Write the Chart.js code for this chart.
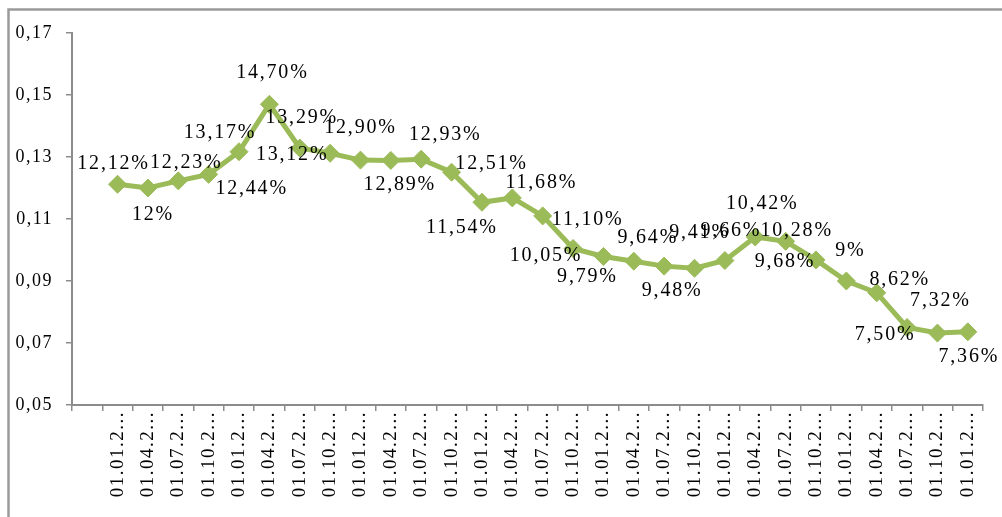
<!DOCTYPE html>
<html>
<head>
<meta charset="utf-8">
<script src="https://cdn.jsdelivr.net/npm/chart.js@4/dist/chart.umd.min.js"></script>
<style>
    body { margin: 0; background: #fff; }
    canvas { display: block; }
</style>
</head>
<body>
<canvas id="rateChart" width="1002" height="517"></canvas>
<script>
// ================= DATA =================
const categories = [
    "",
    "01.01.2...", "01.04.2...", "01.07.2...", "01.10.2...",
    "01.01.2...", "01.04.2...", "01.07.2...", "01.10.2...",
    "01.01.2...", "01.04.2...", "01.07.2...", "01.10.2...",
    "01.01.2...", "01.04.2...", "01.07.2...", "01.10.2...",
    "01.01.2...", "01.04.2...", "01.07.2...", "01.10.2...",
    "01.01.2...", "01.04.2...", "01.07.2...", "01.10.2...",
    "01.01.2...", "01.04.2...", "01.07.2...", "01.10.2...",
    "01.01.2..."
];

const quarterRates = [
    null,
    0.1212, 0.12, 0.1223, 0.1244, 0.1317, 0.147, 0.1329, 0.1312,
    0.129, 0.1289, 0.1293, 0.1251, 0.1154, 0.1168, 0.111, 0.1005,
    0.0979, 0.0964, 0.0948, 0.0941, 0.0966, 0.1042, 0.1028, 0.0968,
    0.09, 0.0862, 0.075, 0.0732, 0.0736
];

const yTickValues = [0.05, 0.07, 0.09, 0.11, 0.13, 0.15, 0.17];

// ================= LABEL PLACEMENT (dx, dy from each point) =================
const labelShift = [
    [-4, -21], [5, 27], [8, -18], [43, 14], [-19, -19], [3, -32], [2, -30], [-38, 1],
    [0, -32], [9, 24], [24, -24], [40, -8], [-20, 25], [29, -15], [45, 4], [-27, 7],
    [-16, 20], [14, -23], [8, 25], [5, -36], [6, -30], [7, -33], [11, -11], [-31, 2],
    [4, -30], [23, -13], [-22, 7], [3, -32], [1, 25]
];

const GREEN = "#9bbb59";
const AXIS = "#8c8c8c";
const SERIF = "'Liberation Serif', 'Times New Roman', serif";

function pct(v) {
    const p = v * 100;
    const txt = Math.abs(p - Math.round(p)) < 1e-9 ? String(Math.round(p)) : p.toFixed(2);
    return txt.replace(".", ",") + "%";
}

// ================= PLUGINS =================
const framePlugin = {
    id: "frame",
    beforeDraw(chart) {
        const ctx = chart.ctx;
        ctx.save();
        ctx.fillStyle = "#fff";
        ctx.fillRect(0, 0, chart.width, chart.height);
        ctx.strokeStyle = "#9a9a9a";
        ctx.lineWidth = 2.5;
        ctx.beginPath();
        ctx.moveTo(8.5, chart.height);
        ctx.lineTo(8.5, 9.5);
        ctx.lineTo(chart.width, 9.5);
        ctx.stroke();
        ctx.restore();
        ctx.letterSpacing = "1.5px";
    },
    afterDraw(chart) {
        chart.ctx.letterSpacing = "0px";
    }
};

const pointLabels = {
    id: "pointLabels",
    afterDatasetsDraw(chart) {
        const ctx = chart.ctx;
        const meta = chart.getDatasetMeta(0);
        ctx.save();
        ctx.font = "20px " + SERIF;
        ctx.letterSpacing = "1.8px";
        ctx.fillStyle = "#000";
        ctx.textAlign = "center";
        ctx.textBaseline = "middle";
        meta.data.forEach((pt, i) => {
            const v = quarterRates[i];
            if (v == null) return;
            const s = labelShift[i - 1];
            ctx.fillText(pct(v), pt.x + s[0], pt.y + s[1]);
        });
        ctx.restore();
    }
};

// ================= CHART =================
new Chart(document.getElementById("rateChart"), {
    type: "line",
    data: {
        labels: categories,
        datasets: [{
            data: quarterRates,
            borderColor: GREEN,
            backgroundColor: GREEN,
            borderWidth: 5,
            pointStyle: "rectRot",
            pointRadius: 9,
            pointBorderWidth: 1,
            pointBackgroundColor: GREEN,
            pointBorderColor: GREEN,
            tension: 0
        }]
    },
    options: {
        responsive: false,
        animation: false,
        layout: { padding: { top: 33, right: 19, left: 0, bottom: 0 } },
        plugins: { legend: { display: false }, tooltip: { enabled: false } },
        scales: {
            x: {
                type: "category",
                offset: true,
                grid: { offset: true, drawOnChartArea: false, drawTicks: true, tickLength: 6, color: AXIS, lineWidth: 1.5 },
                border: { color: AXIS, width: 2 },
                ticks: {
                    autoSkip: false, minRotation: 90, maxRotation: 90, padding: 0,
                    color: "#000", font: { family: SERIF, size: 19 }
                },
                afterFit(scale) {
                    scale.height = 112;
                    scale.paddingLeft = 0;
                    scale.paddingRight = 0;
                }
            },
            y: {
                min: 0.05,
                max: 0.17,
                grid: { drawOnChartArea: false, drawTicks: true, tickLength: 6, color: AXIS, lineWidth: 1.5 },
                border: { color: AXIS, width: 2 },
                afterBuildTicks(scale) {
                    scale.ticks = yTickValues.map(v => ({ value: v }));
                },
                ticks: {
                    padding: 13,
                    color: "#000",
                    font: { family: SERIF, size: 18 },
                    callback: v => v.toFixed(2).replace(".", ",")
                },
                afterFit(scale) {
                    scale.width = 72;
                    scale.paddingTop = 0;
                    scale.paddingBottom = 0;
                }
            }
        }
    },
    plugins: [framePlugin, pointLabels]
});
</script>
</body>
</html>
